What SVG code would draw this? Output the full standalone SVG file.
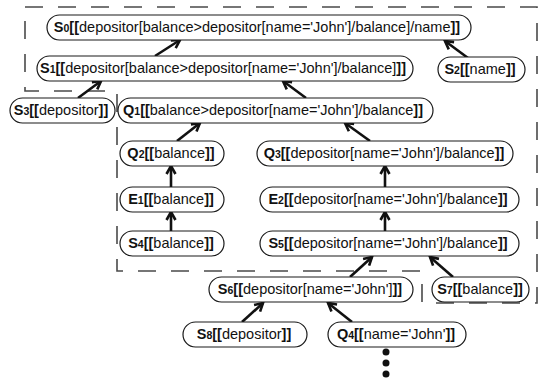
<svg xmlns="http://www.w3.org/2000/svg" width="548" height="379" viewBox="0 0 548 379">
<style>
.pill{fill:#fff;stroke:#1a1a1a;stroke-width:1.2}
.t{font-family:"Liberation Sans",Arial,sans-serif;font-size:14.5px;fill:#111;text-anchor:middle}
.b{font-weight:bold}
.sub{font-weight:bold;font-size:10.5px}
.edge{stroke:#111;stroke-width:2.6;fill:none;marker-end:url(#ah)}
.region{fill:none;stroke:#4a4a4a;stroke-width:1.6;stroke-dasharray:18 15}
</style>
<defs>
<marker id="ah" viewBox="0 0 12 12" refX="10" refY="6" markerWidth="12" markerHeight="12" markerUnits="userSpaceOnUse" orient="auto">
<path d="M2,1.5 L10,6 L2,10.5" fill="none" stroke="#111" stroke-width="2.6" stroke-linejoin="miter"/>
</marker>
</defs>
<g id="regions">
<path class="region" d="M25,7 H537 V303 H422 V271 H117 V91 H25 Z"/>
</g>
<g id="connectors">
<line class="edge" x1="155" y1="56" x2="180" y2="40"/>
<line class="edge" x1="468" y1="58" x2="445" y2="41"/>
<line class="edge" x1="78" y1="98" x2="101" y2="81"/>
<line class="edge" x1="306" y1="98" x2="283" y2="81"/>
<line class="edge" x1="177" y1="141" x2="200" y2="123"/>
<line class="edge" x1="370" y1="141" x2="345" y2="123"/>
<line class="edge" x1="171" y1="187" x2="171" y2="166"/>
<line class="edge" x1="171" y1="231" x2="171" y2="212"/>
<line class="edge" x1="385" y1="187" x2="385" y2="166"/>
<line class="edge" x1="385" y1="231" x2="385" y2="212"/>
<line class="edge" x1="350" y1="277" x2="372" y2="257"/>
<line class="edge" x1="453" y1="277" x2="430" y2="257"/>
<line class="edge" x1="242" y1="322" x2="263" y2="303"/>
<line class="edge" x1="352" y1="322" x2="328" y2="303"/>
</g>
<g id="S0"><rect class="pill" x="47" y="15" width="424" height="25" rx="12.5"/><text class="t" x="257" y="32"><tspan class="b">S</tspan><tspan class="sub">0</tspan><tspan class="b">[[</tspan>depositor[balance&gt;depositor[name='John']/balance]/name<tspan class="b">]]</tspan></text></g>
<g id="S1"><rect class="pill" x="37" y="56" width="376" height="25" rx="12.5"/><text class="t" x="223" y="73"><tspan class="b">S</tspan><tspan class="sub">1</tspan><tspan class="b">[[</tspan>depositor[balance&gt;depositor[name='John']/balance]<tspan class="b">]]</tspan></text></g>
<g id="S2"><rect class="pill" x="438" y="57" width="87" height="25" rx="12.5"/><text class="t" x="480" y="74"><tspan class="b">S</tspan><tspan class="sub">2</tspan><tspan class="b">[[</tspan>name<tspan class="b">]]</tspan></text></g>
<g id="S3"><rect class="pill" x="10" y="98" width="105" height="25" rx="12.5"/><text class="t" x="61" y="115"><tspan class="b">S</tspan><tspan class="sub">3</tspan><tspan class="b">[[</tspan>depositor<tspan class="b">]]</tspan></text></g>
<g id="Q1"><rect class="pill" x="118" y="98" width="315" height="25" rx="12.5"/><text class="t" x="273" y="115"><tspan class="b">Q</tspan><tspan class="sub">1</tspan><tspan class="b">[[</tspan>balance&gt;depositor[name='John']/balance<tspan class="b">]]</tspan></text></g>
<g id="Q2"><rect class="pill" x="120" y="141" width="104" height="25" rx="12.5"/><text class="t" x="171" y="158"><tspan class="b">Q</tspan><tspan class="sub">2</tspan><tspan class="b">[[</tspan>balance<tspan class="b">]]</tspan></text></g>
<g id="Q3"><rect class="pill" x="257" y="141" width="256" height="25" rx="12.5"/><text class="t" x="384" y="158"><tspan class="b">Q</tspan><tspan class="sub">3</tspan><tspan class="b">[[</tspan>depositor[name='John']/balance<tspan class="b">]]</tspan></text></g>
<g id="E1"><rect class="pill" x="120" y="187" width="104" height="25" rx="12.5"/><text class="t" x="171" y="204"><tspan class="b">E</tspan><tspan class="sub">1</tspan><tspan class="b">[[</tspan>balance<tspan class="b">]]</tspan></text></g>
<g id="E2"><rect class="pill" x="260" y="187" width="259" height="25" rx="12.5"/><text class="t" x="388" y="204"><tspan class="b">E</tspan><tspan class="sub">2</tspan><tspan class="b">[[</tspan>depositor[name='John']/balance<tspan class="b">]]</tspan></text></g>
<g id="S4"><rect class="pill" x="120" y="231" width="104" height="25" rx="12.5"/><text class="t" x="171" y="248"><tspan class="b">S</tspan><tspan class="sub">4</tspan><tspan class="b">[[</tspan>balance<tspan class="b">]]</tspan></text></g>
<g id="S5"><rect class="pill" x="260" y="231" width="259" height="25" rx="12.5"/><text class="t" x="388" y="248"><tspan class="b">S</tspan><tspan class="sub">5</tspan><tspan class="b">[[</tspan>depositor[name='John']/balance<tspan class="b">]]</tspan></text></g>
<g id="S6"><rect class="pill" x="209" y="277" width="204" height="25" rx="12.5"/><text class="t" x="310" y="294"><tspan class="b">S</tspan><tspan class="sub">6</tspan><tspan class="b">[[</tspan>depositor[name='John']<tspan class="b">]]</tspan></text></g>
<g id="S7"><rect class="pill" x="432" y="277" width="97" height="25" rx="12.5"/><text class="t" x="480" y="294"><tspan class="b">S</tspan><tspan class="sub">7</tspan><tspan class="b">[[</tspan>balance<tspan class="b">]]</tspan></text></g>
<g id="S8"><rect class="pill" x="183" y="322" width="124" height="25" rx="12.5"/><text class="t" x="244" y="339"><tspan class="b">S</tspan><tspan class="sub">8</tspan><tspan class="b">[[</tspan>depositor<tspan class="b">]]</tspan></text></g>
<g id="Q4"><rect class="pill" x="328" y="322" width="138" height="25" rx="12.5"/><text class="t" x="396" y="339"><tspan class="b">Q</tspan><tspan class="sub">4</tspan><tspan class="b">[[</tspan>name='John'<tspan class="b">]]</tspan></text></g>
<g id="more"><circle cx="386" cy="352" r="3.5" fill="#111"/><circle cx="386" cy="363" r="3.5" fill="#111"/><circle cx="386" cy="374" r="3.5" fill="#111"/></g>
</svg>
